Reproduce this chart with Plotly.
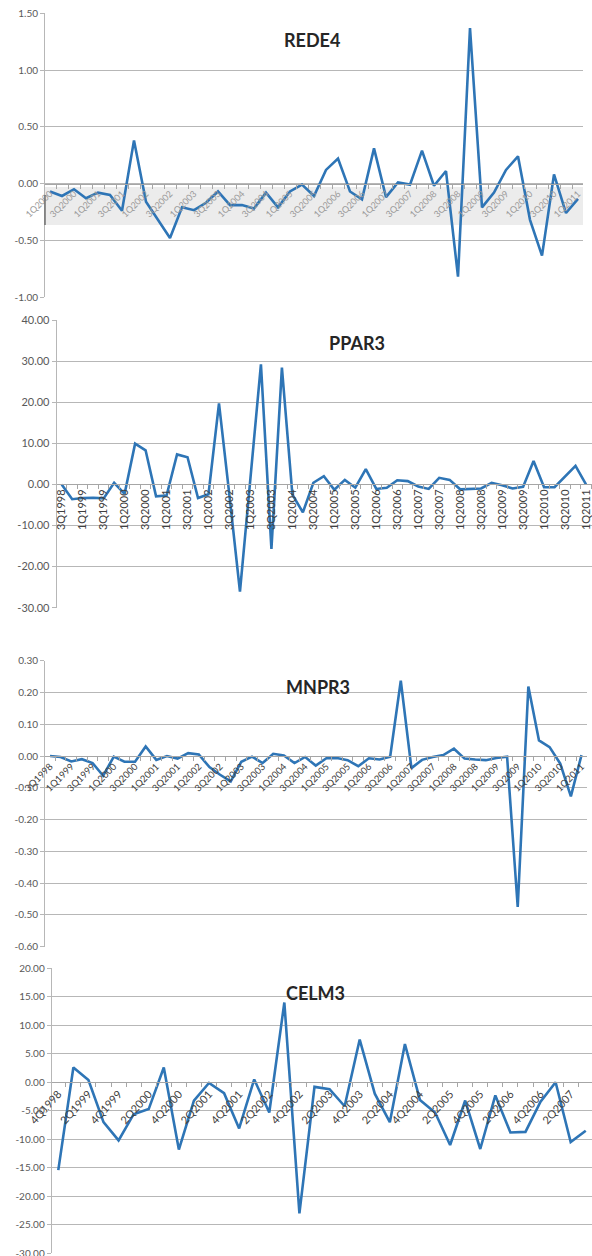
import plotly.graph_objects as go

W, H = 592, 1256

QUARTERS = ["3Q1998", "4Q1998",
            "1Q1999", "2Q1999", "3Q1999", "4Q1999",
            "1Q2000", "2Q2000", "3Q2000", "4Q2000",
            "1Q2001", "2Q2001", "3Q2001", "4Q2001",
            "1Q2002", "2Q2002", "3Q2002", "4Q2002",
            "1Q2003", "2Q2003", "3Q2003", "4Q2003",
            "1Q2004", "2Q2004", "3Q2004", "4Q2004",
            "1Q2005", "2Q2005", "3Q2005", "4Q2005",
            "1Q2006", "2Q2006", "3Q2006", "4Q2006",
            "1Q2007", "2Q2007", "3Q2007", "4Q2007",
            "1Q2008", "2Q2008", "3Q2008", "4Q2008",
            "1Q2009", "2Q2009", "3Q2009", "4Q2009",
            "1Q2010", "2Q2010", "3Q2010", "4Q2010",
            "1Q2011"]

rede4_cats = QUARTERS[6:]      # 1Q2000 .. 1Q2011
ppar3_cats = QUARTERS          # 3Q1998 .. 1Q2011
mnpr3_cats = QUARTERS          # 3Q1998 .. 1Q2011
celm3_cats = QUARTERS[1:37]    # 4Q1998 .. 3Q2007

rede4 = [-0.07, -0.11, -0.05, -0.13, -0.08, -0.10, -0.24, 0.38, -0.16, -0.32,
         -0.48, -0.21, -0.235, -0.17, -0.07, -0.19, -0.19, -0.22, -0.08, -0.21,
         -0.07, -0.01, -0.11, 0.12, 0.22, -0.07, -0.14, 0.31, -0.12, 0.01,
         -0.01, 0.29, -0.02, 0.11, -0.82, 1.37, -0.21, -0.08, 0.12, 0.24,
         -0.32, -0.635, 0.08, -0.26, -0.135]

ppar3 = [0.0, -3.6, -3.3, -3.25, -3.4, 0.4, -2.3, 9.9, 8.3, -2.9,
         -2.7, 7.3, 6.6, -3.3, -2.4, 19.7, -2.8, -26.1, 1.5, 29.2,
         -15.7, 28.4, -2.5, -6.8, 0.4, 2.0, -1.3, 1.1, -0.8, 3.7,
         -1.1, -0.8, 1.0, 0.8, -0.5, -1.1, 1.6, 1.1, -1.2, -1.1,
         -1.0, 0.4, -0.2, -1.0, -0.6, 5.7, -0.7, -0.7, 2.0, 4.5,
         0.0]

mnpr3 = [0.000, -0.003, -0.017, -0.010, -0.022, -0.062, -0.002, -0.018, -0.018, 0.030,
         -0.012, 0.000, -0.008, 0.009, 0.005, -0.035, -0.059, -0.080, -0.018, -0.002,
         -0.022, 0.007, 0.002, -0.022, -0.003, -0.030, -0.007, -0.006, -0.013, -0.032,
         -0.007, -0.011, -0.002, 0.237, -0.038, -0.012, -0.003, 0.003, 0.023, -0.008,
         -0.011, -0.013, -0.006, -0.002, -0.475, 0.219, 0.049, 0.028, -0.024, -0.127,
         0.003]

celm3 = [-15.4, 2.6, 0.4, -7.0, -10.2, -5.6, -4.7, 2.6, -11.8, -3.2,
         -0.1, -1.9, -8.1, 0.5, -5.3, 14.0, -23.0, -0.8, -1.2, -4.2,
         7.5, -2.0, -7.0, 6.7, -3.1, -5.3, -11.0, -3.2, -11.7, -2.3,
         -8.8, -8.7, -3.4, 0.0, -10.5, -8.5]

rede4_yticks = [-1.0, -0.5, 0.0, 0.5, 1.0, 1.5]
ppar3_yticks = [-30, -20, -10, 0, 10, 20, 30, 40]
mnpr3_yticks = [-0.6, -0.5, -0.4, -0.3, -0.2, -0.1, 0.0, 0.1, 0.2, 0.3]
celm3_yticks = [-30, -25, -20, -15, -10, -5, 0, 5, 10, 15, 20]

titles = ["REDE4", "PPAR3", "MNPR3", "CELM3"]

LINE = "#2E75B6"
GRID = "#b7b7b7"
AX = "#a6a6a6"
FONT = "Lato"


def px_x(p):
    return p / W


def px_y(p):
    return 1 - p / H


# panel geometry (pixels): x axis start, first point x, spacing, right edge,
# y top px, y bottom px, zero px, title position
panels = [
    dict(cats=rede4_cats, vals=rede4, yt=rede4_yticks, yr=[-1.0, 1.5],
         ax0=45, p0=50, sp=12.0, xr=583, ytop=13.3, ybot=297, yzero=184,
         title=(312, 40), yfs=10, xfs=9, xang=-45, xcol="#9a9a9a"),
    dict(cats=ppar3_cats, vals=ppar3, yt=ppar3_yticks, yr=[-30, 40],
         ax0=56.7, p0=61.7, sp=10.486, xr=592, ytop=320, ybot=607.7, yzero=484,
         title=(357, 343), yfs=11, xfs=11, xang=-90, xcol="#404040"),
    dict(cats=mnpr3_cats, vals=mnpr3, yt=mnpr3_yticks, yr=[-0.6, 0.3],
         ax0=45, p0=50, sp=10.63, xr=586.7, ytop=660.7, ybot=946.7, yzero=756.3,
         title=(318, 687), yfs=10, xfs=9.5, xang=-45, xcol="#404040"),
    dict(cats=celm3_cats, vals=celm3, yt=celm3_yticks, yr=[-30, 20],
         ax0=51.7, p0=58.3, sp=15.07, xr=592, ytop=968.3, ybot=1253.3, yzero=1082.3,
         title=(315, 993), yfs=10, xfs=11, xang=-48, xcol="#404040"),
]

fig = go.Figure()
annotations = []
shapes = []
layout = dict(width=W, height=H, margin=dict(l=0, r=0, t=0, b=0, pad=0),
              paper_bgcolor="white", plot_bgcolor="white", showlegend=False)

for k, p in enumerate(panels, start=1):
    sfx = "" if k == 1 else str(k)
    n = len(p["cats"])
    idx = list(range(n))
    fig.add_trace(go.Scatter(x=idx, y=p["vals"], mode="lines",
                             line=dict(color=LINE, width=2.6),
                             xaxis="x" + sfx, yaxis="y" + sfx,
                             hoverinfo="skip"))
    xr0 = (p["ax0"] - p["p0"]) / p["sp"]
    xr1 = (p["xr"] - p["p0"]) / p["sp"]
    yd = [px_y(p["ybot"]), px_y(p["ytop"])]
    layout["xaxis" + sfx] = dict(
        domain=[px_x(p["ax0"]), px_x(p["xr"])], range=[xr0, xr1],
        anchor="free", position=px_y(p["yzero"]), automargin=False,
        showline=True, linecolor=AX, linewidth=1, showgrid=False, zeroline=False,
        tickmode="array", tickvals=idx[::2], ticktext=p["cats"][::2],
        ticks="", tickangle=p["xang"], ticklabeloverflow="allow",
        tickfont=dict(family=FONT, size=p["xfs"], color=p["xcol"]),
        minor=dict(tickmode="array", tickvals=[i + 0.5 for i in range(-1, n)],
                   ticks="outside", ticklen=4, tickcolor=AX, tickwidth=1,
                   showgrid=False),
        fixedrange=True,
    )
    layout["yaxis" + sfx] = dict(
        domain=yd, range=p["yr"], anchor="x" + sfx, automargin=False,
        showline=True, linecolor=GRID, linewidth=1,
        showgrid=True, gridcolor=GRID, gridwidth=1, zeroline=False,
        tickmode="array", tickvals=p["yt"], ticktext=[f"{v:.2f}" for v in p["yt"]],
        ticks="outside", ticklen=4, tickcolor=GRID, ticklabeloverflow="allow",
        tickfont=dict(family=FONT, size=p["yfs"], color="#595959"),
        fixedrange=True,
    )
    tx, ty = p["title"]
    annotations.append(dict(text="<b>" + titles[k - 1] + "</b>", x=px_x(tx), y=px_y(ty),
                            xref="paper", yref="paper", showarrow=False,
                            xanchor="center", yanchor="middle",
                            font=dict(family=FONT, size=18, color="#262626")))

# hatched label band behind REDE4 category labels
shapes.append(dict(type="rect", xref="paper", yref="paper", layer="below",
                   x0=px_x(45), x1=px_x(583), y0=px_y(225), y1=px_y(187),
                   fillcolor="#ececec", line=dict(width=0)))
shapes.append(dict(type="line", xref="paper", yref="paper",
                   x0=px_x(45), x1=px_x(45), y0=px_y(225), y1=px_y(195),
                   line=dict(color="#707070", width=1.5)))

layout["annotations"] = annotations
layout["shapes"] = shapes
fig.update_layout(**layout)
fig.write_html("out.html", config={"displayModeBar": False},
               post_script="document.body.style.margin='0px';document.body.style.overflow='hidden';")
